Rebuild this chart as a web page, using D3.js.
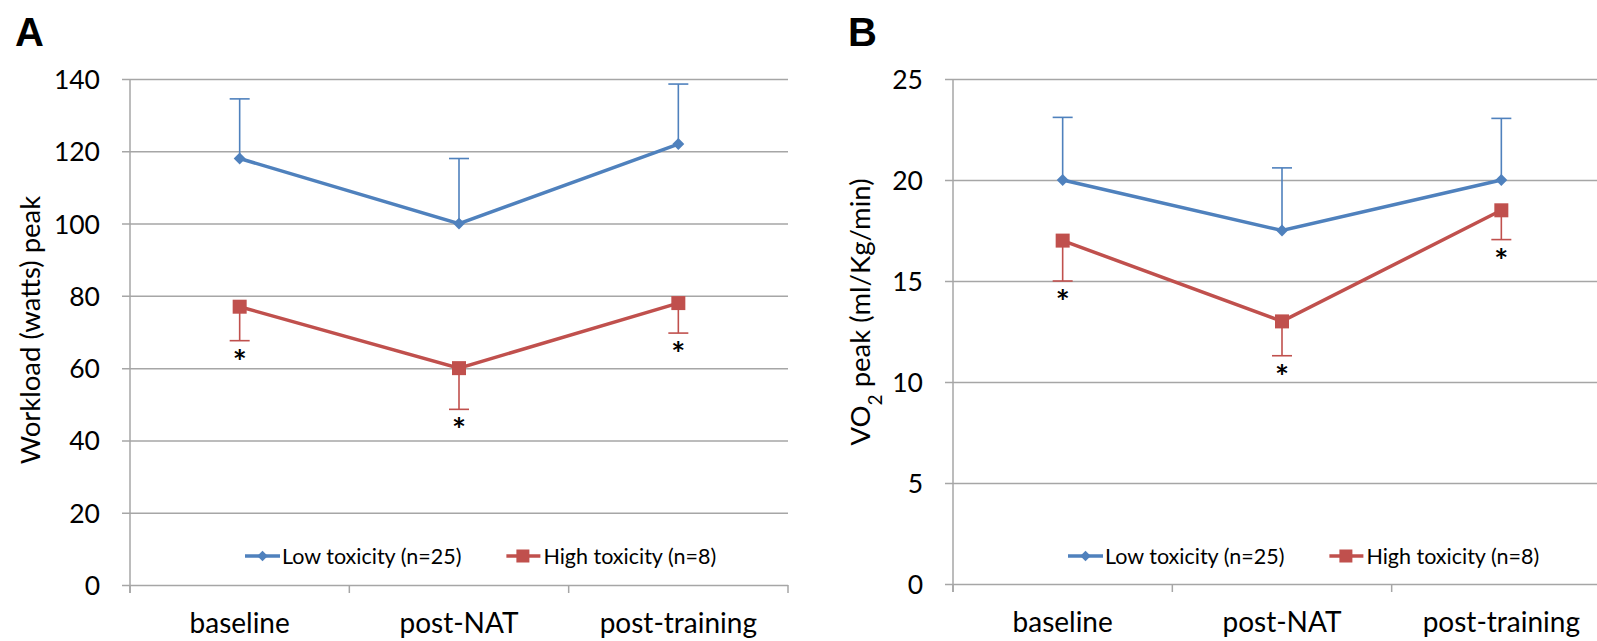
<!DOCTYPE html>
<html>
<head>
<meta charset="utf-8">
<script src="https://cdn.jsdelivr.net/npm/d3@7"></script>
<style>
  body { margin: 0; background: #fff; }
  text { font-family: Lato, "Open Sans", sans-serif; fill: #000; }
</style>
</head>
<body>
<div id="chart"></div>
<script>
// chart data
var categories = ["baseline", "post-NAT", "post-training"];
var seriesNames = ["Low toxicity (n=25)", "High toxicity (n=8)"];

// panel A - workload peak (watts)
var workloadTicks = [0, 20, 40, 60, 80, 100, 120, 140];
var workloadLow = [118, 100, 122];
var workloadLowErr = [16.5, 18, 16.6];
var workloadHigh = [77, 60, 78];
var workloadHighErr = [9.4, 11.4, 8.3];

// panel B - VO2 peak (ml/Kg/min)
var vo2Ticks = [0, 5, 10, 15, 20, 25];
var vo2Low = [20, 17.5, 20];
var vo2LowErr = [3.1, 3.1, 3.05];
var vo2High = [17, 13, 18.5];
var vo2HighErr = [2.0, 1.7, 1.45];

var blue = "#4f81bd";
var red = "#c0504d";
var grid = "#a6a6a6";

var svg = d3.select("#chart")
  .append("svg")
  .attr("width", 1597)
  .attr("height", 641);

function drawPanel(p) {
  var g = svg.append("g");
  var x = d3.scaleBand()
    .domain(categories)
    .range([p.left, p.left + 658])
    .paddingInner(0)
    .paddingOuter(0);
  var y = d3.scaleLinear()
    .domain([0, p.ticks[p.ticks.length - 1]])
    .range([p.bottom, p.top]);
  var cx = function(d, i) { return x(categories[i]) + x.bandwidth() / 2; };

  // gridlines + y tick labels
  var yAxis = g.append("g")
    .attr("transform", `translate(${p.left - 8},0)`)
    .call(d3.axisLeft(y).tickValues(p.ticks).tickSize(-(658 + 8)).tickPadding(22));
  yAxis.select(".domain").remove();
  yAxis.selectAll("line").attr("stroke", grid).attr("stroke-width", 1.5);
  yAxis.selectAll("text").style("font-size", "26.5px").attr("dy", "0.36em");

  // y axis line
  g.append("line")
    .attr("x1", p.left).attr("x2", p.left)
    .attr("y1", p.top).attr("y2", p.bottom + 8)
    .attr("stroke", grid).attr("stroke-width", 1.5);

  // x ticks at category boundaries
  var bounds = categories.map(function(c) { return x(c); }).concat([p.left + 658]);
  g.selectAll(".xtick")
    .data(bounds)
    .enter()
    .append("line")
    .attr("x1", d => d).attr("x2", d => d)
    .attr("y1", p.bottom).attr("y2", p.bottom + 8)
    .attr("stroke", grid).attr("stroke-width", 1.5);

  // category labels
  var xAxis = g.append("g")
    .attr("transform", `translate(0,${p.bottom})`)
    .call(d3.axisBottom(x).tickSize(0).tickPadding(28));
  xAxis.select(".domain").remove();
  xAxis.selectAll("text").style("font-size", "28px");

  // y axis title
  var title = g.append("text")
    .attr("transform", `translate(${p.titleX},${p.titleY}) rotate(-90)`)
    .attr("text-anchor", "middle")
    .attr("dy", "0.35em")
    .style("font-size", "27.5px");
  p.title(title);

  // panel letter
  g.append("text")
    .attr("x", p.letterX).attr("y", 46)
    .style("font-family", "'Liberation Sans', Arial, sans-serif")
    .style("font-weight", "bold")
    .style("font-size", "40px")
    .text(p.letter);

  var line = d3.line().x(cx).y(d => y(d));

  // error bars: low goes up, high goes down
  function errorBars(vals, errs, dir, color) {
    var eg = g.append("g");
    vals.forEach(function(v, i) {
      var end = y(v + dir * errs[i]);
      eg.append("line")
        .attr("x1", cx(v, i)).attr("x2", cx(v, i))
        .attr("y1", y(v)).attr("y2", end)
        .attr("stroke", color).attr("stroke-width", 1.6);
      eg.append("line")
        .attr("x1", cx(v, i) - 10).attr("x2", cx(v, i) + 10)
        .attr("y1", end).attr("y2", end)
        .attr("stroke", color).attr("stroke-width", 1.6);
    });
  }
  errorBars(p.low, p.lowErr, 1, blue);
  errorBars(p.high, p.highErr, -1, red);

  // series lines
  g.append("path").datum(p.low)
    .attr("d", line).attr("fill", "none")
    .attr("stroke", blue).attr("stroke-width", 3.5);
  g.append("path").datum(p.high)
    .attr("d", line).attr("fill", "none")
    .attr("stroke", red).attr("stroke-width", 3.5);

  // markers
  g.selectAll(".diamond").data(p.low).enter()
    .append("path")
    .attr("d", d3.symbol(d3.symbolDiamond2, 90))
    .attr("transform", (d, i) => `translate(${cx(d, i)},${y(d)})`)
    .attr("fill", blue);
  g.selectAll(".square").data(p.high).enter()
    .append("rect")
    .attr("x", (d, i) => cx(d, i) - 7).attr("y", d => y(d) - 7)
    .attr("width", 14).attr("height", 14)
    .attr("fill", red);

  // significance asterisks under high-toxicity error bars
  g.selectAll(".star").data(p.high).enter()
    .append("text")
    .attr("x", (d, i) => cx(d, i))
    .attr("y", (d, i) => y(d - p.highErr[i]) + 33)
    .attr("text-anchor", "middle")
    .style("font-size", "33px")
    .style("font-weight", "bold")
    .text("*");

  // legend
  var lg = g.append("g").attr("transform", `translate(${p.left + 115},${p.legendY})`);
  var item1 = lg.append("g");
  item1.append("line").attr("x1", 0).attr("x2", 35).attr("y1", 0).attr("y2", 0)
    .attr("stroke", blue).attr("stroke-width", 3.5);
  item1.append("path").attr("d", d3.symbol(d3.symbolDiamond2, 70))
    .attr("transform", "translate(17.5,0)").attr("fill", blue);
  var t1 = item1.append("text").attr("x", 37).attr("dy", "0.35em")
    .style("font-size", "21.5px").text(seriesNames[0]);
  var off = 37 + t1.node().getComputedTextLength() + 45;
  var item2 = lg.append("g").attr("transform", `translate(${off},0)`);
  item2.append("line").attr("x1", 0).attr("x2", 34).attr("y1", 0).attr("y2", 0)
    .attr("stroke", red).attr("stroke-width", 3.5);
  item2.append("rect").attr("x", 10).attr("y", -6.5).attr("width", 13).attr("height", 13)
    .attr("fill", red);
  item2.append("text").attr("x", 37).attr("dy", "0.35em")
    .style("font-size", "21.5px").text(seriesNames[1]);
}

drawPanel({
  left: 130, top: 79, bottom: 585,
  ticks: workloadTicks,
  low: workloadLow, lowErr: workloadLowErr,
  high: workloadHigh, highErr: workloadHighErr,
  titleX: 30, titleY: 330,
  title: function(t) { t.text("Workload (watts) peak"); },
  letter: "A", letterX: 15,
  legendY: 556
});

drawPanel({
  left: 953, top: 79, bottom: 584,
  ticks: vo2Ticks,
  low: vo2Low, lowErr: vo2LowErr,
  high: vo2High, highErr: vo2HighErr,
  titleX: 860, titleY: 312,
  title: function(t) {
    t.append("tspan").text("VO");
    t.append("tspan").attr("baseline-shift", "sub").style("font-size", "19px").text("2");
    t.append("tspan").text(" peak (ml/Kg/min)");
  },
  letter: "B", letterX: 848,
  legendY: 556
});
</script>
</body>
</html>
